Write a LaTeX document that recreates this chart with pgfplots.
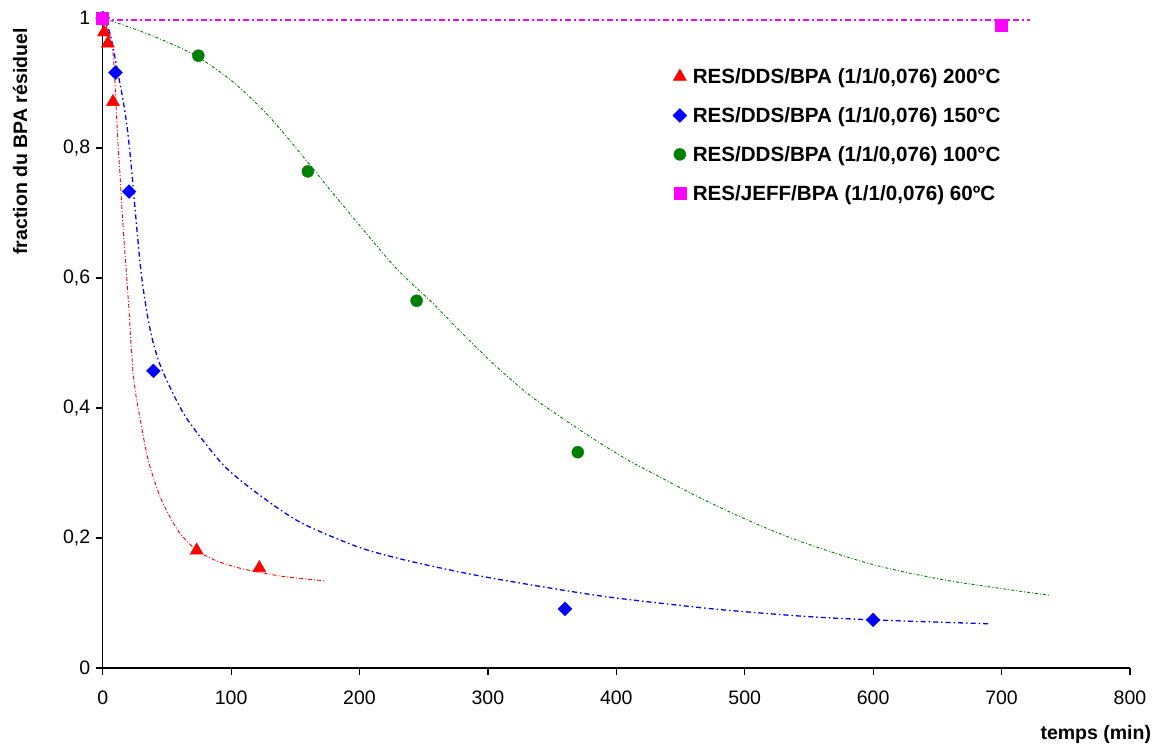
\documentclass[border=0pt]{standalone}
\usepackage{fontspec}
\setmainfont{Liberation Sans}
\usepackage{pgfplots}
\pgfplotsset{compat=1.18}
\definecolor{cRed}{RGB}{255,0,0}
\definecolor{cBlue}{RGB}{0,0,255}
\definecolor{cGreen}{RGB}{0,128,0}
\definecolor{cMag}{RGB}{255,0,255}
\begin{document}
\begin{tikzpicture}
\path[use as bounding box] (-102.7pt,-76pt) rectangle (1054.3pt,668pt);
\begin{axis}[
  scale only axis,
  width=1027.3pt, height=650pt,
  xmin=0, xmax=800, ymin=0, ymax=1,
  axis x line*=bottom, axis y line*=left,
  axis line style={black, line width=1.2pt},
  xtick={0,100,...,800},
  ytick={0,0.2,0.4,0.6,0.8,1},
  yticklabels={0,{0,2},{0,4},{0,6},{0,8},1},
  tick style={black, line width=1.2pt},
  tick align=outside,
  major tick length=7pt,
  /pgf/number format/assume math mode=true,
  tick label style={font=\fontsize{19.5}{23}\selectfont},
  xticklabel style={yshift=-12pt},
  yticklabel style={xshift=-2pt},
  xlabel={\textbf{temps (min)}},
  xlabel style={font=\fontsize{19.5}{23}\selectfont, at={(axis description cs:1.024,-0.083)}, anchor=north east},
  ylabel={\textbf{fraction du BPA résiduel}},
  ylabel style={font=\fontsize{19.5}{23}\selectfont, at={(axis description cs:-0.0805,0.81)}, anchor=center},
  legend style={draw=none, fill=none, at={(axis description cs:0.552,0.929)}, anchor=north west,
    font=\fontsize{20.6}{24}\selectfont\bfseries, row sep=18.5pt},
  legend cell align=left,
  clip=false,
]
% trendlines
\addplot[cRed, line width=0.9pt, dash pattern=on 4pt off 2pt on 1pt off 2pt, smooth, forget plot] coordinates {
(0,1) (4,0.98) (6.7,0.961) (8,0.946) (9.3,0.91) (10.6,0.858) (11.9,0.807) (13.3,0.765) (15,0.705) (16.7,0.655) (18.8,0.598) (20.5,0.55) (22,0.5) (23.8,0.452) (26,0.418) (29,0.385) (33,0.342) (36.8,0.31) (44.6,0.264) (52,0.234) (60.2,0.207) (73.2,0.181) (85,0.168) (94,0.161) (108,0.153) (122.5,0.147) (140,0.141) (158,0.137) (173,0.134)
};
\addplot[cBlue, line width=1.3pt, dash pattern=on 5pt off 3pt on 1.5pt off 3pt, smooth, forget plot] coordinates {
(0,1) (5.7,0.976) (10.9,0.925) (16,0.872) (19,0.832) (21.5,0.788) (23.8,0.738) (26.5,0.678) (29,0.625) (31.6,0.583) (35.5,0.535) (39.4,0.5) (44.6,0.467) (52.4,0.432) (62.8,0.392) (75.8,0.356) (96.6,0.307) (125,0.262) (155,0.223) (197.8,0.187) (231.5,0.168) (270,0.151) (309.4,0.136) (387.3,0.111) (465,0.093) (504,0.086) (550,0.079) (600,0.074) (691,0.068)
};
\addplot[cGreen, line width=0.9pt, dash pattern=on 3pt off 2pt on 1pt off 2pt, smooth, forget plot] coordinates {
(0,1) (29,0.980) (55,0.959) (75,0.939) (102,0.901) (128,0.852) (151,0.799) (177,0.736) (203,0.674) (229,0.614) (255,0.565) (281,0.513) (307,0.463) (333,0.419) (359,0.383) (385,0.349) (408,0.321) (426,0.302) (465,0.262) (504,0.226) (543,0.195) (600,0.159) (660,0.134) (737,0.112)
};
\addplot[cMag, line width=1.2pt, dash pattern=on 6pt off 3pt on 2pt off 3pt, forget plot] coordinates {
(0,0.997) (722.5,0.997)
};
% data
\addplot[only marks, mark=triangle*, mark size=7.5pt, color=cRed] coordinates {
(1,0.978) (4,0.961) (8,0.871) (73.2,0.181) (122,0.154)
};
\addlegendentry{\hspace*{4pt}RES/DDS/BPA (1/1/0,076) 200°C}
\addplot[only marks, mark=square*, mark size=4.9pt, mark options={rotate=45}, color=cBlue] coordinates {
(0,1) (10,0.916) (20.5,0.733) (39.5,0.457) (360,0.091) (600,0.074)
};
\addlegendentry{\hspace*{4pt}RES/DDS/BPA (1/1/0,076) 150°C}
\addplot[only marks, mark=*, mark size=6pt, color=cGreen] coordinates {
(74.5,0.942) (159.8,0.764) (244.5,0.565) (370,0.332)
};
\addlegendentry{\hspace*{4pt}RES/DDS/BPA (1/1/0,076) 100°C}
\addplot[only marks, mark=square*, mark size=6pt, color=cMag] coordinates {
(0,1) (699.6,0.989)
};
\addlegendentry{\hspace*{4pt}RES/JEFF/BPA (1/1/0,076) 60ºC}
\end{axis}
\end{tikzpicture}
\end{document}
